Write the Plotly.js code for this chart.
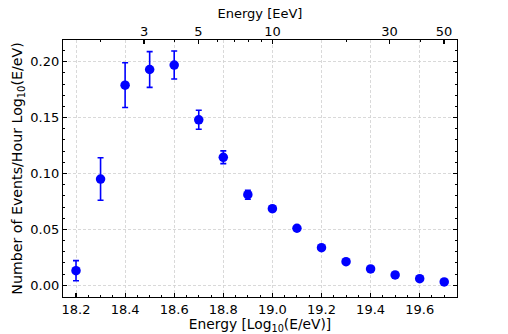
<!DOCTYPE html>
<html>
<head>
<meta charset="utf-8">
<script src="https://cdn.plot.ly/plotly-3.0.1.min.js"></script>
<style>html,body{margin:0;padding:0;background:#fff}#chart{width:508px;height:334px}</style>
</head>
<body>
<div id="chart"></div>
<script>
const logE = [18.2, 18.3, 18.4, 18.5, 18.6, 18.7, 18.8, 18.9, 19.0, 19.1, 19.2, 19.3, 19.4, 19.5, 19.6, 19.7];
const rate = [0.013, 0.095, 0.179, 0.193, 0.197, 0.148, 0.1145, 0.081, 0.0685, 0.051, 0.0336, 0.0211, 0.0146, 0.0092, 0.0059, 0.003];
const rateErr = [0.009, 0.019, 0.020, 0.016, 0.0125, 0.0085, 0.0057, 0.004, 0.0025, 0.0018, 0.0013, 0.001, 0.0008, 0.0006, 0.0005, 0.0004];
const topTickEeV = [3, 5, 10, 30, 50];
const topMinorEeV = [2, 4, 6, 7, 8, 9, 20, 40];

const topTickVals = topTickEeV.map(v => 18 + Math.log10(v));
const topMinorVals = topMinorEeV.map(v => 18 + Math.log10(v));
const xr = [18.147, 19.752];
const font = {family: 'DejaVu Sans', size: 13, color: '#000'};

const traces = [{
  x: logE, y: rate, type: 'scatter', mode: 'markers',
  marker: {color: '#0000ff', size: 9.5},
  error_y: {type: 'data', array: rateErr, visible: true, color: '#0000ff', thickness: 1.6, width: 3},
  showlegend: false, hoverinfo: 'x+y'
}, {
  x: [xr[0]], y: [0], xaxis: 'x2', yaxis: 'y', type: 'scatter', mode: 'markers',
  marker: {opacity: 0}, showlegend: false, hoverinfo: 'skip'
}];

const layout = {
  width: 508, height: 334,
  margin: {l: 63, r: 51, t: 40, b: 37},
  paper_bgcolor: '#fff', plot_bgcolor: '#fff',
  font: font,
  showlegend: false,
  xaxis: {
    range: xr, tickmode: 'array', tickvals: [18.2, 18.4, 18.6, 18.8, 19.0, 19.2, 19.4, 19.6],
    ticktext: ['18.2', '18.4', '18.6', '18.8', '19.0', '19.2', '19.4', '19.6'],
    ticks: 'inside', ticklen: 4, tickwidth: 1.2, tickcolor: '#000',
    minor: {tickmode: 'linear', tick0: 18.15, dtick: 0.05, ticks: 'inside', ticklen: 2, tickwidth: 1, tickcolor: '#000', showgrid: false},
    showline: true, linecolor: '#000', linewidth: 1.2, mirror: true,
    showgrid: true, gridcolor: '#d0d0d0', griddash: '3px,2px', gridwidth: 0.8,
    zeroline: false,
    title: {text: 'Energy [Log<sub>10</sub>(E/eV)]', font: {family: 'DejaVu Sans', size: 13.8, color: '#000'}, standoff: 2},
    tickfont: font
  },
  xaxis2: {
    overlaying: 'x', side: 'top', anchor: 'y', range: xr,
    tickmode: 'array', tickvals: topTickVals, ticktext: topTickEeV.map(String),
    ticks: 'inside', ticklen: 4, tickwidth: 1.2, tickcolor: '#000',
    minor: {tickmode: 'array', tickvals: topMinorVals, ticks: 'inside', ticklen: 2, tickwidth: 1, tickcolor: '#000', showgrid: false},
    showgrid: false, zeroline: false, showline: false,
    title: {text: 'Energy [EeV]', font: font, standoff: 2},
    tickfont: font
  },
  yaxis: {
    range: [-0.0105, 0.2194],
    tickmode: 'array', tickvals: [0, 0.05, 0.10, 0.15, 0.20], ticktext: ['0.00', '0.05', '0.10', '0.15', '0.20'],
    ticks: 'inside', ticklen: 4, tickwidth: 1.2, tickcolor: '#000',
    minor: {tickmode: 'linear', tick0: 0, dtick: 0.01, ticks: 'inside', ticklen: 2, tickwidth: 1, tickcolor: '#000', showgrid: false},
    showline: true, linecolor: '#000', linewidth: 1.2, mirror: 'ticks',
    showgrid: true, gridcolor: '#d0d0d0', griddash: '3px,2px', gridwidth: 0.8,
    zeroline: false,
    title: {text: 'Number of Events/Hour Log<sub>10</sub>(E/eV)', font: {family: 'DejaVu Sans', size: 14.2, color: '#000'}, standoff: 4},
    tickfont: font
  }
};

Plotly.newPlot('chart', traces, layout, {staticPlot: true, displayModeBar: false});
</script>
</body>
</html>
